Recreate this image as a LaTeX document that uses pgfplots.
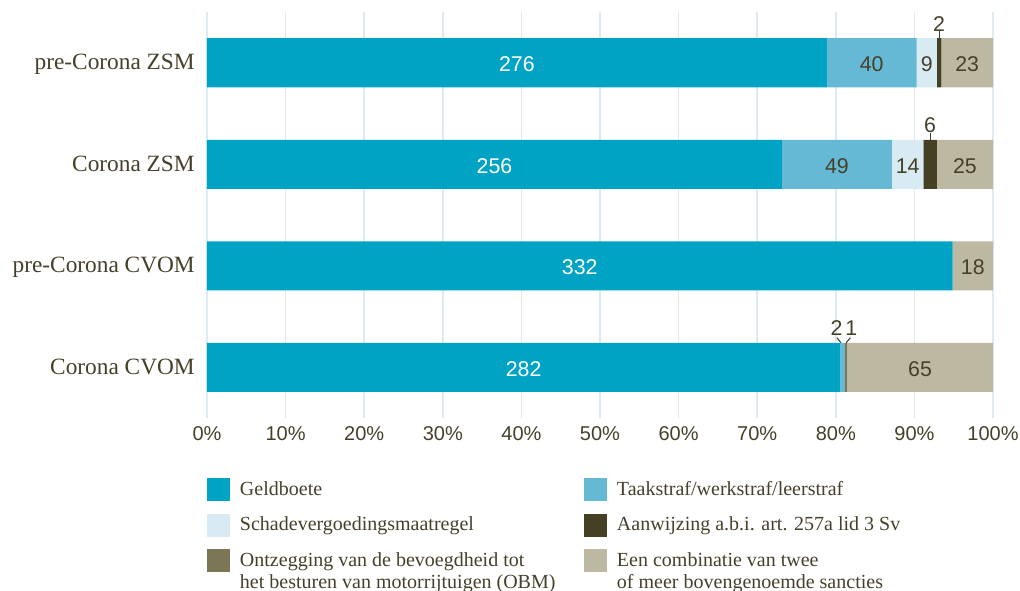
\documentclass[border=0pt]{standalone}
\usepackage{fontspec}
\setmainfont{Liberation Serif}
\newfontfamily\sansf{Liberation Sans}
\usepackage{pgfplots}
\pgfplotsset{compat=1.18}
\usepackage{pgfplotstable}
\definecolor{geld}{HTML}{00A3C4}
\definecolor{taak}{HTML}{66B9D4}
\definecolor{schade}{HTML}{D8EAF2}
\definecolor{aanw}{HTML}{453F24}
\definecolor{obm}{HTML}{7B7654}
\definecolor{comb}{HTML}{BDB8A2}
\definecolor{gridc}{HTML}{DCEAF3}
\definecolor{textc}{HTML}{45402A}

\pgfplotstableread{
y G T S A O C
0 276 40 9 2 0 23
1 256 49 14 6 0 25
2 332 0 0 0 0 18
3 282 2 0 0 1 65
}\data

\pgfplotsset{common/.style={at={(0,0)}, anchor=south west, scale only axis,
  width=589.5pt, height=304.5pt, xmin=0, xmax=350, ymin=-0.5, ymax=3.5, y dir=reverse}}

\begin{document}
\begin{tikzpicture}
\path[use as bounding box] (-155.25pt,-129.75pt) rectangle (609.75pt,313.5pt);
\begin{axis}[common,
  xbar stacked, bar width=36.75pt,
  axis line style={draw=none}, tick style={draw=none}, major tick length=0pt,
  xtick={0,35,...,350},
  xticklabels={0\%,10\%,20\%,30\%,40\%,50\%,60\%,70\%,80\%,90\%,100\%},
  ytick={0,1,2,3},
  yticklabels={pre-Corona ZSM,Corona ZSM,pre-Corona CVOM,Corona CVOM},
  xmajorgrids, ymajorgrids=false, grid style={gridc, line width=1.2pt},
  /pgf/number format/assume math mode=true,
  xticklabel style={font=\sansf\fontsize{15pt}{15pt}\selectfont, text=textc, anchor=base, inner sep=0pt, yshift=-16.5pt},
  yticklabel style={font=\fontsize{17.5pt}{17.5pt}\selectfont, text=textc, anchor=base east, inner sep=0pt, xshift=-9pt, yshift=-5.25pt},
  legend columns=2,
  legend image code/.code={\fill[#1] (0pt,-4.5pt) rectangle (17.25pt,12.75pt);},
  legend style={at={(axis description cs:0,0)}, anchor=north west, yshift=-45pt,
    draw=none, fill=none, inner sep=0pt, outer sep=0pt,
    font=\fontsize{15pt}{16.5pt}\selectfont, text=textc,
    cells={anchor=base west}, nodes={inner sep=0pt}, row sep=9.4pt,
    /tikz/every odd column/.append style={column sep=7.5pt},
    /tikz/every even column/.append style={column sep=10.5pt}},
]
\addplot[fill=geld, draw=none] table[x=G, y=y]{\data};
\addlegendentry{\parbox[t]{247.5pt}{Geldboete}}
\addplot[fill=taak, draw=none] table[x=T, y=y]{\data};
\addlegendentry{\parbox[t]{225pt}{Taakstraf/werkstraf/leerstraf}}
\addplot[fill=schade, draw=none] table[x=S, y=y]{\data};
\addlegendentry{\parbox[t]{247.5pt}{Schadevergoedingsmaatregel}}
\addplot[fill=aanw, draw=none] table[x=A, y=y]{\data};
\addlegendentry{\parbox[t]{225pt}{Aanwijzing a.b.i. art. 257a lid 3 Sv}}
\addplot[fill=obm, draw=none] table[x=O, y=y]{\data};
\addlegendentry{\parbox[t]{247.5pt}{Ontzegging van de bevoegdheid tot\\het besturen van motorrijtuigen (OBM)}}
\addplot[fill=comb, draw=none] table[x=C, y=y]{\data};
\addlegendentry{\parbox[t]{225pt}{Een combinatie van twee\\of meer bovengenoemde sancties}}
\end{axis}

\begin{axis}[common, hide axis, clip=false,
  point meta=explicit symbolic,
  nodes near coords={\pgfplotspointmeta},
  nodes near coords style={font=\sansf\fontsize{16pt}{16pt}\selectfont, text=textc, anchor=center, inner sep=0pt, yshift=-1.3pt},
]
\addplot[draw=none, nodes near coords style={text=white}]
  table[x expr=\thisrow{G}/2, y=y, meta=G]{\data};
\addplot[draw=none, restrict expr to domain={\thisrow{T}}{5:1000}]
  table[x expr=\thisrow{G}+\thisrow{T}/2, y=y, meta=T]{\data};
\addplot[draw=none, restrict expr to domain={\thisrow{S}}{5:1000}]
  table[x expr=\thisrow{G}+\thisrow{T}+\thisrow{S}/2, y=y, meta=S]{\data};
\addplot[draw=none, restrict expr to domain={\thisrow{C}}{5:1000}]
  table[x expr=\thisrow{G}+\thisrow{T}+\thisrow{S}+\thisrow{A}+\thisrow{O}+\thisrow{C}/2, y=y, meta=C]{\data};
% small segments: labels above the bar
\addplot[draw=none, restrict expr to domain={\thisrow{A}}{0.5:1000}, nodes near coords style={anchor=base, yshift=24.75pt}]
  table[x expr=\thisrow{G}+\thisrow{T}+\thisrow{S}+\thisrow{A}/2, y=y, meta=A]{\data};
\addplot[draw=none, restrict expr to domain={\thisrow{T}}{0.5:4.5}, nodes near coords style={anchor=base, yshift=24.75pt, xshift=-4.5pt}]
  table[x expr=\thisrow{G}+\thisrow{T}/2, y=y, meta=T]{\data};
\addplot[draw=none, restrict expr to domain={\thisrow{O}}{0.5:1000}, nodes near coords style={anchor=base, yshift=24.75pt, xshift=4pt}]
  table[x expr=\thisrow{G}+\thisrow{T}+\thisrow{S}+\thisrow{A}+\thisrow{O}/2, y=y, meta=O]{\data};
\draw[textc, line width=0.8pt] (axis cs:326,-0.2414) -- ++(0pt,5.25pt);
\draw[textc, line width=0.8pt] (axis cs:322,0.7586) -- ++(0pt,5.25pt);
\draw[textc, line width=0.8pt] (axis cs:282.3,2.7586) -- ++(-3pt,3.75pt);
\draw[textc, line width=0.8pt] (axis cs:284.6,2.7586) -- ++(3.2pt,3.75pt);
\end{axis}
\end{tikzpicture}
\end{document}
